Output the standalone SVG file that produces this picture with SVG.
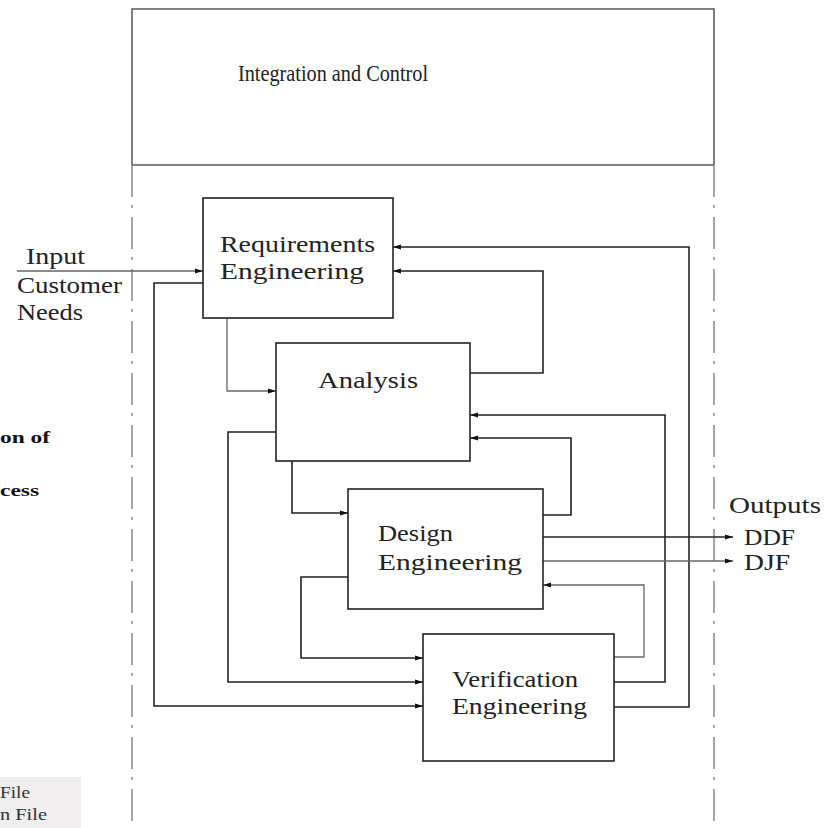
<svg xmlns="http://www.w3.org/2000/svg" width="824" height="828" viewBox="0 0 824 828">
<style>
text{font-family:"Liberation Serif","Times New Roman",serif;fill:#222;}
.lbl{font-size:23px;}
.title{font-size:24px;}
.side{font-size:17px;font-weight:bold;fill:#111;}
.leg{font-size:17px;fill:#333;}
.box{fill:#fff;stroke:#222;stroke-width:1.6;}
.frame{fill:none;stroke:#555;stroke-width:1.5;}
.dash{fill:none;stroke:#888;stroke-width:1.5;stroke-dasharray:32 8 3 9;}
.c{fill:none;stroke:#222;stroke-width:1.6;marker-end:url(#ah);}
.g{stroke:#666;stroke-width:1.3;}
</style>
<defs>
<marker id="ah" viewBox="0 0 8 6" refX="8" refY="3" markerWidth="8" markerHeight="6" markerUnits="userSpaceOnUse" orient="auto">
<path d="M0,0.5 L8,3 L0,5.5 Z" fill="#111"/>
</marker>
</defs>
<rect width="824" height="828" fill="#fff"/>
<g id="frame">
<path class="frame" d="M132,165 V9 H714 V165 M132,165 H714"/>
<line class="dash" x1="132" y1="165" x2="132" y2="828"/>
<line class="dash" x1="714" y1="165" x2="714" y2="828"/>
<text class="title" x="238" y="81" textLength="190" lengthAdjust="spacingAndGlyphs">Integration and Control</text>
</g>
<g id="connectors">
<path class="c g" d="M17,271 H203"/>
<path class="c" d="M203,283 H154 V706 H423"/>
<path class="c g" d="M227,318 V391 H276"/>
<path class="c" d="M276,432 H228 V682 H423"/>
<path class="c" d="M292,461 V513 H348"/>
<path class="c" d="M348,577 H301 V658 H423"/>
<path class="c" d="M470,373 H543 V271 H393"/>
<path class="c" d="M543,515 H571 V438 H470"/>
<path class="c g" d="M614,657 H644 V585 H543"/>
<path class="c" d="M614,682 H665 V415 H470"/>
<path class="c" d="M614,707 H689 V247 H393"/>
<path class="c" d="M543,537 H733"/>
<path class="c g" d="M543,561 H733"/>
</g>
<g id="requirements">
<rect class="box" x="203" y="198" width="190" height="120"/>
<text class="lbl" x="220" y="252" textLength="155" lengthAdjust="spacingAndGlyphs">Requirements</text>
<text class="lbl" x="220" y="279" textLength="144" lengthAdjust="spacingAndGlyphs">Engineering</text>
</g>
<g id="analysis">
<rect class="box" x="276" y="343" width="194" height="118"/>
<text class="lbl" x="318" y="388" textLength="100" lengthAdjust="spacingAndGlyphs">Analysis</text>
</g>
<g id="design">
<rect class="box" x="348" y="489" width="195" height="120"/>
<text class="lbl" x="378" y="541" textLength="75" lengthAdjust="spacingAndGlyphs">Design</text>
<text class="lbl" x="378" y="570" textLength="144" lengthAdjust="spacingAndGlyphs">Engineering</text>
</g>
<g id="verification">
<rect class="box" x="423" y="634" width="191" height="127"/>
<text class="lbl" x="452" y="687" textLength="126" lengthAdjust="spacingAndGlyphs">Verification</text>
<text class="lbl" x="452" y="714" textLength="135" lengthAdjust="spacingAndGlyphs">Engineering</text>
</g>
<g id="input-label">
<text class="lbl" x="26" y="264" textLength="59" lengthAdjust="spacingAndGlyphs">Input</text>
<text class="lbl" x="17" y="293" textLength="105" lengthAdjust="spacingAndGlyphs">Customer</text>
<text class="lbl" x="17" y="320" textLength="66" lengthAdjust="spacingAndGlyphs">Needs</text>
</g>
<g id="outputs-label">
<text class="lbl" x="729" y="513" textLength="92" lengthAdjust="spacingAndGlyphs">Outputs</text>
<text class="lbl" x="744" y="545" textLength="51" lengthAdjust="spacingAndGlyphs">DDF</text>
<text class="lbl" x="744" y="570" textLength="46" lengthAdjust="spacingAndGlyphs">DJF</text>
</g>
<g id="side-text">
<text class="side" x="0" y="443" textLength="50" lengthAdjust="spacingAndGlyphs">on of</text>
<text class="side" x="0" y="496" textLength="39" lengthAdjust="spacingAndGlyphs">cess</text>
</g>
<g id="legend">
<rect x="0" y="777" width="81" height="51" fill="#efeded"/>
<text class="leg" x="0" y="798" textLength="30" lengthAdjust="spacingAndGlyphs">File</text>
<text class="leg" x="0" y="820" textLength="47" lengthAdjust="spacingAndGlyphs">n File</text>
</g>
</svg>
